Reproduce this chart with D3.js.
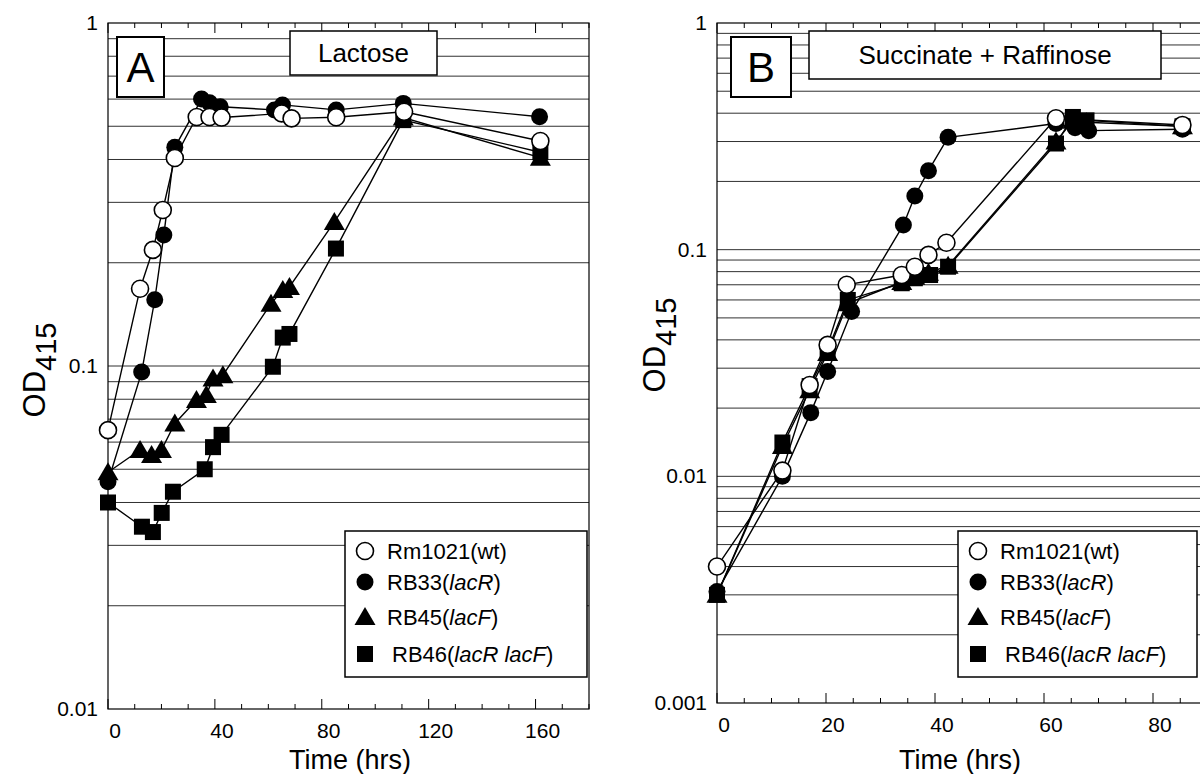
<!DOCTYPE html>
<html><head><meta charset="utf-8">
<script src="https://cdn.jsdelivr.net/npm/d3@7"></script>
<style>body{margin:0;background:#fff}svg{display:block;font-family:"Liberation Sans",Arial,Helvetica,sans-serif}</style>
</head><body><svg id="c" width="1200" height="774"></svg>
<script>
// ---- data ----
const seriesNames = ["Rm1021(wt)", "RB33(lacR)", "RB45(lacF)", "RB46(lacR lacF)"];
// Panel A: Lactose
const A_wt_t  = [0, 12, 16.8, 20.5, 25, 33.2, 38, 42.5, 65, 68.7, 85.4, 110.8, 161.8];
const A_wt_v  = [0.065, 0.168, 0.218, 0.285, 0.404, 0.532, 0.532, 0.53, 0.545, 0.527, 0.531, 0.551, 0.453];
const A_r33_t = [0, 12.6, 17.5, 20.9, 25, 35, 38, 42, 62.3, 65.3, 85.4, 110.5, 161.5];
const A_r33_v = [0.046, 0.096, 0.156, 0.241, 0.434, 0.60, 0.585, 0.57, 0.558, 0.577, 0.558, 0.583, 0.533];
const A_r45_t = [0, 12, 16.3, 20, 25, 33.1, 36.8, 39.3, 43, 61, 65.4, 67.9, 84.7, 110.5, 161.8];
const A_r45_v = [0.049, 0.0569, 0.055, 0.0569, 0.068, 0.0796, 0.0823, 0.092, 0.094, 0.152, 0.1665, 0.170, 0.263, 0.53, 0.405];
const A_r46_t = [0, 12.7, 16.8, 20.1, 24.3, 36.2, 39.3, 42.5, 61.7, 65.4, 67.9, 85.3, 110.5, 161.8];
const A_r46_v = [0.040, 0.034, 0.0328, 0.0373, 0.043, 0.050, 0.058, 0.063, 0.0995, 0.121, 0.124, 0.22, 0.521, 0.42];
// Panel B: Succinate + Raffinose
const B_wt_t  = [0, 12, 17, 20.3, 23.8, 33.9, 36.3, 38.8, 42.1, 62.2, 85.4];
const B_wt_v  = [0.0040, 0.0106, 0.0253, 0.038, 0.070, 0.0773, 0.0841, 0.0948, 0.1073, 0.38, 0.355];
const B_r33_t = [0, 12, 17.2, 20.3, 24.7, 34.2, 36.3, 38.8, 42.4, 62.2, 65.7, 68.2, 85.4];
const B_r33_v = [0.0031, 0.0100, 0.0191, 0.029, 0.0533, 0.1285, 0.1725, 0.223, 0.313, 0.36, 0.345, 0.335, 0.340];
const B_r45_t = [0, 12, 17, 20.3, 24, 33.9, 36.3, 38.8, 42.4, 62.2, 65.3, 67.8, 85.4];
const B_r45_v = [0.0030, 0.0136, 0.024, 0.035, 0.058, 0.072, 0.076, 0.079, 0.085, 0.30, 0.37, 0.365, 0.35];
const B_r46_t = [0, 12, 17, 20.3, 24, 33.9, 36.3, 39.1, 42.4, 62.2, 65.3, 67.8, 85.4];
const B_r46_v = [0.0030, 0.0141, 0.025, 0.036, 0.060, 0.0711, 0.0748, 0.0773, 0.0841, 0.294, 0.385, 0.372, 0.35];
// axes
const A_xTicks = [0, 40, 80, 120, 160];
const A_yTicks = [0.01, 0.1, 1];
const A_grid = [0.02,0.03,0.04,0.05,0.06,0.07,0.08,0.09,0.1,0.2,0.3,0.4,0.5,0.6,0.7,0.8,0.9];
const B_xTicks = [0, 20, 40, 60, 80];
const B_yTicks = [0.001, 0.01, 0.1, 1];
const B_grid = [0.002,0.003,0.004,0.005,0.006,0.007,0.008,0.009,0.01,0.02,0.03,0.04,0.05,0.06,0.07,0.08,0.09,0.1,0.2,0.3,0.4,0.5,0.6,0.7,0.8,0.9];

const svg = d3.select("#c");
const zip = (t, v) => t.map((d, i) => ({t: d, v: v[i]}));

function panel(cfg) {
  const x = d3.scaleLinear().domain(cfg.xDom).range([cfg.left, cfg.right]);
  const y = d3.scaleLog().domain(cfg.yDom).range([cfg.bottom, cfg.top]);
  const g = svg.append("g");
  // gridlines
  g.selectAll("line.grid").data(cfg.grid).join("line")
    .attr("x1", cfg.left).attr("x2", cfg.right)
    .attr("y1", d => y(d)).attr("y2", d => y(d))
    .attr("stroke", "#1a1a1a").attr("stroke-width", 0.9);
  // frame
  g.append("rect").attr("x", cfg.left).attr("y", cfg.top)
    .attr("width", cfg.right - cfg.left).attr("height", cfg.bottom - cfg.top)
    .attr("fill", "none").attr("stroke", "#000").attr("stroke-width", 1.2);
  // x ticks (bottom & top, inward)
  const minorX = d3.range(cfg.xDom[0], cfg.xDom[1] + 0.001, cfg.minorStep);
  const tk = g.append("g");
  minorX.forEach(t => {
    const major = cfg.xTicks.includes(t);
    const L = major ? 10 : 5;
    tk.append("line").attr("x1", x(t)).attr("x2", x(t)).attr("y1", cfg.bottom).attr("y2", cfg.bottom - L).attr("stroke", "#000");
    tk.append("line").attr("x1", x(t)).attr("x2", x(t)).attr("y1", cfg.top).attr("y2", cfg.top + L).attr("stroke", "#000");
  });
  g.selectAll("text.xt").data(cfg.xTicks).join("text")
    .attr("x", d => x(d) + 7).attr("y", cfg.bottom + 29)
    .attr("text-anchor", "middle").attr("font-size", 21).text(d => d);
  g.selectAll("text.yt").data(cfg.yTicks).join("text")
    .attr("x", cfg.left - 10).attr("y", d => y(d) + 7)
    .attr("text-anchor", "end").attr("font-size", 21).text(d => String(d));
  // axis titles
  g.append("text").attr("x", cfg.xTitleX).attr("y", 769)
    .attr("text-anchor", "middle").attr("font-size", 27).text("Time (hrs)");
  const yl = g.append("text").attr("transform", `translate(${cfg.yTitleX},${cfg.yTitleY}) rotate(-90)`)
    .attr("text-anchor", "middle").attr("font-size", 31);
  yl.append("tspan").text("OD");
  yl.append("tspan").attr("dy", 11).attr("font-size", 29).text("415");

  // series
  const line = d3.line().x(d => x(d.t)).y(d => y(d.v));
  const order = [3, 2, 1, 0];
  order.forEach(i => {
    const data = cfg.series[i];
    g.append("path").datum(data).attr("d", line).attr("fill", "none")
      .attr("stroke", "#000").attr("stroke-width", 1.4);
  });
  order.forEach(i => {
    const data = cfg.series[i];
    drawMarkers(g, data.map(d => [x(d.t), y(d.v)]), i);
  });

  // label boxes
  g.append("rect").attr("x", cfg.letterBox[0]).attr("y", cfg.letterBox[1]).attr("width", cfg.letterBox[2]).attr("height", cfg.letterBox[3])
    .attr("fill", "#fff").attr("stroke", "#000").attr("stroke-width", 2);
  g.append("text").attr("x", cfg.letterBox[0] + cfg.letterBox[2] / 2).attr("y", cfg.letterBox[1] + cfg.letterBox[3] / 2 + 15)
    .attr("text-anchor", "middle").attr("font-size", 42).text(cfg.letter);
  g.append("rect").attr("x", cfg.titleBox[0]).attr("y", cfg.titleBox[1]).attr("width", cfg.titleBox[2]).attr("height", cfg.titleBox[3])
    .attr("fill", "#fff").attr("stroke", "#000").attr("stroke-width", 1.5);
  g.append("text").attr("x", cfg.titleBox[0] + cfg.titleBox[2] / 2).attr("y", cfg.titleBox[1] + cfg.titleBox[3] / 2 + 9)
    .attr("text-anchor", "middle").attr("font-size", 26).text(cfg.title);

  // legend
  const lb = cfg.legendBox;
  g.append("rect").attr("x", lb[0]).attr("y", lb[1]).attr("width", lb[2]).attr("height", lb[3])
    .attr("fill", "#fff").attr("stroke", "#000").attr("stroke-width", 1.5);
  const rowsY = [551, 582, 617, 654];
  seriesNames.forEach((name, i) => {
    const mx = lb[0] + 20, my = rowsY[i];
    drawMarkers(g, [[mx, my]], i);
    const tx = g.append("text").attr("x", lb[0] + 42 + (i === 3 ? 5 : 0)).attr("y", my + 8).attr("font-size", 22);
    const m = name.match(/^([^(]+)\((.*)\)$/);
    tx.append("tspan").text(m[1] + "(");
    if (m[2] === "wt") tx.append("tspan").text("wt");
    else tx.append("tspan").attr("font-style", "italic").text(m[2]);
    tx.append("tspan").text(")");
  });
}

function drawMarkers(g, pts, i) {
  pts.forEach(([px, py]) => {
    if (i === 0) g.append("circle").attr("cx", px).attr("cy", py).attr("r", 8.5).attr("fill", "#fff").attr("stroke", "#000").attr("stroke-width", 1.6);
    else if (i === 1) g.append("circle").attr("cx", px).attr("cy", py).attr("r", 8.5).attr("fill", "#000");
    else if (i === 2) g.append("path").attr("d", `M${px},${py - 10}L${px + 10.5},${py + 8}L${px - 10.5},${py + 8}Z`).attr("fill", "#000");
    else g.append("rect").attr("x", px - 8).attr("y", py - 8).attr("width", 16).attr("height", 16).attr("fill", "#000");
  });
}

panel({
  xDom: [0, 180], yDom: [0.01, 1], left: 108, right: 589, top: 23, bottom: 709,
  xTicks: A_xTicks, yTicks: A_yTicks, grid: A_grid, minorStep: 10,
  xTitleX: 350, yTitleX: 45, yTitleY: 370,
  series: [zip(A_wt_t, A_wt_v), zip(A_r33_t, A_r33_v), zip(A_r45_t, A_r45_v), zip(A_r46_t, A_r46_v)],
  letter: "A", letterBox: [117, 37, 47, 60], title: "Lactose", titleBox: [290, 31, 147, 44],
  legendBox: [345, 531, 242, 146]
});
panel({
  xDom: [0, 90], yDom: [0.001, 1], left: 717, right: 1207.5, top: 23, bottom: 703,
  xTicks: B_xTicks, yTicks: B_yTicks, grid: B_grid, minorStep: 5,
  xTitleX: 960, yTitleX: 665, yTitleY: 345,
  series: [zip(B_wt_t, B_wt_v), zip(B_r33_t, B_r33_v), zip(B_r45_t, B_r45_v), zip(B_r46_t, B_r46_v)],
  letter: "B", letterBox: [731, 37, 60, 60], title: "Succinate + Raffinose", titleBox: [809, 31, 352, 48],
  legendBox: [958, 531, 239, 146]
});
</script></body></html>
